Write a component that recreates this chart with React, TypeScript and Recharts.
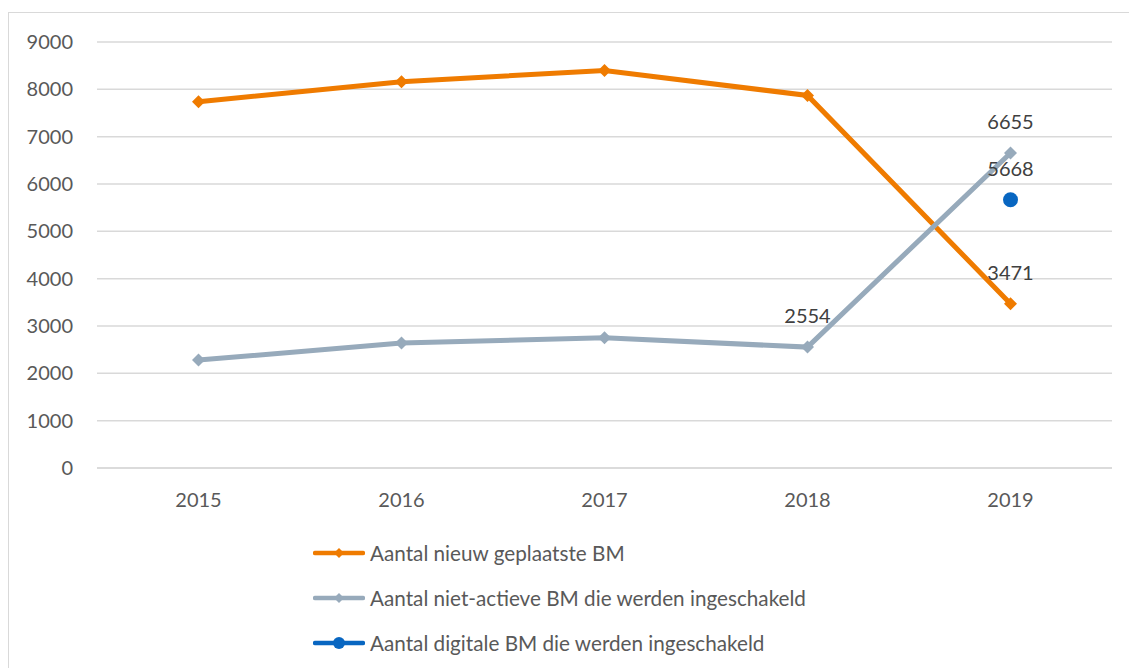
import React from 'react';
import { LineChart, Line, XAxis, YAxis, CartesianGrid, Legend, LabelList } from 'recharts';

const years = ['2015', '2016', '2017', '2018', '2019'];
const nieuwGeplaatst = [7740, 8160, 8400, 7870, 3471];
const nietActief = [2280, 2640, 2750, 2554, 6655];
const digitaal: (number | null)[] = [null, null, null, null, 5668];
const yTicks = [0, 1000, 2000, 3000, 4000, 5000, 6000, 7000, 8000, 9000];

const seriesNames = [
  'Aantal nieuw geplaatste BM',
  'Aantal niet-actieve BM die werden ingeschakeld',
  'Aantal digitale BM die werden ingeschakeld',
];
const labelledFrom = [4, 3, 4];

const ORANGE = '#EF7B00';
const GRAY = '#97AABB';
const BLUE = '#0866C1';
const FONT = 'Lato, "Open Sans", sans-serif';

const data = years.map((y, i) => ({
  year: y,
  nieuw: nieuwGeplaatst[i],
  niet: nietActief[i],
  digitaal: digitaal[i],
}));

const Diamond = (color: string) => (props: any) => {
  const { cx, cy, index } = props;
  if (cx == null || cy == null) return <g key={`d-${index}`} />;
  const s = 6.5;
  return (
    <path
      key={`d-${index}`}
      d={`M${cx},${cy - s} L${cx + s},${cy} L${cx},${cy + s} L${cx - s},${cy} Z`}
      fill={color}
      stroke="none"
    />
  );
};

const makeLabel = (fromIndex: number) => (props: any) => {
  const { x, y, value, index } = props;
  if (index < fromIndex || value == null) return null;
  return (
    <text
      x={x}
      y={y - 32}
      textAnchor="middle"
      dominantBaseline="central"
      fill="#404040"
      fontSize={20}
      fontFamily={FONT}
    >
      {value}
    </text>
  );
};

const colors = [ORANGE, GRAY, BLUE];

const renderLegend = () => (
  <div style={{ fontFamily: FONT, fontSize: 20.7, color: '#595959' }}>
    {seriesNames.map((name, i) => (
      <div key={name} style={{ display: 'flex', alignItems: 'center', height: 45 }}>
        <svg width={52} height={16} style={{ marginRight: 5 }}>
          <line x1={2} y1={8} x2={50} y2={8} stroke={colors[i]} strokeWidth={4.5} strokeLinecap="round" />
          {i < 2 ? (
            <path d="M26,3 L31,8 L26,13 L21,8 Z" fill={colors[i]} />
          ) : (
            <circle cx={26} cy={8} r={6} fill={colors[i]} />
          )}
        </svg>
        <span>{name}</span>
      </div>
    ))}
  </div>
);

export default function App() {
  return (
    <div
      style={{
        position: 'absolute',
        left: 0,
        top: 0,
        width: 1129,
        height: 668,
        overflow: 'hidden',
        background: '#fff',
      }}
    >
      <div
        style={{
          position: 'absolute',
          left: 8,
          top: 12,
          width: 1200,
          height: 700,
          border: '1.5px solid #D9D9D9',
          boxSizing: 'border-box',
        }}
      />
      <div style={{ position: 'absolute', left: 0, top: 0 }}>
        <LineChart
          width={1129}
          height={668}
          data={data}
          margin={{ top: 42, right: 17, left: 0, bottom: 170 }}
        >
          <CartesianGrid horizontal vertical={false} stroke="#D9D9D9" strokeWidth={1.5} />
          <XAxis
            dataKey="year"
            scale="band"
            height={30}
            axisLine={{ stroke: '#D9D9D9', strokeWidth: 1.5 }}
            tickLine={false}
            tickSize={0}
            tickMargin={25}
            tick={{ fill: '#595959', fontSize: 20, fontFamily: FONT }}
          />
          <YAxis
            width={97}
            domain={[0, 9000]}
            ticks={yTicks}
            axisLine={false}
            tickLine={false}
            tickSize={0}
            tickMargin={24}
            tick={{ fill: '#595959', fontSize: 20, fontFamily: FONT }}
          />
          <Legend
            layout="vertical"
            verticalAlign="middle"
            align="center"
            content={renderLegend}
            wrapperStyle={{ position: 'absolute', left: 313, top: 530, width: 600, height: 140 }}
          />
          <Line
            name={seriesNames[0]}
            dataKey="nieuw"
            stroke={ORANGE}
            strokeWidth={5}
            dot={Diamond(ORANGE)}
            activeDot={false}
            isAnimationActive={false}
          >
            <LabelList dataKey="nieuw" content={makeLabel(labelledFrom[0])} />
          </Line>
          <Line
            name={seriesNames[1]}
            dataKey="niet"
            stroke={GRAY}
            strokeWidth={5}
            dot={Diamond(GRAY)}
            activeDot={false}
            isAnimationActive={false}
          >
            <LabelList dataKey="niet" content={makeLabel(labelledFrom[1])} />
          </Line>
          <Line
            name={seriesNames[2]}
            dataKey="digitaal"
            stroke={BLUE}
            strokeWidth={5}
            dot={{ r: 7.5, fill: BLUE, stroke: 'none' }}
            activeDot={false}
            isAnimationActive={false}
          >
            <LabelList dataKey="digitaal" content={makeLabel(labelledFrom[2])} />
          </Line>
        </LineChart>
      </div>
    </div>
  );
}
